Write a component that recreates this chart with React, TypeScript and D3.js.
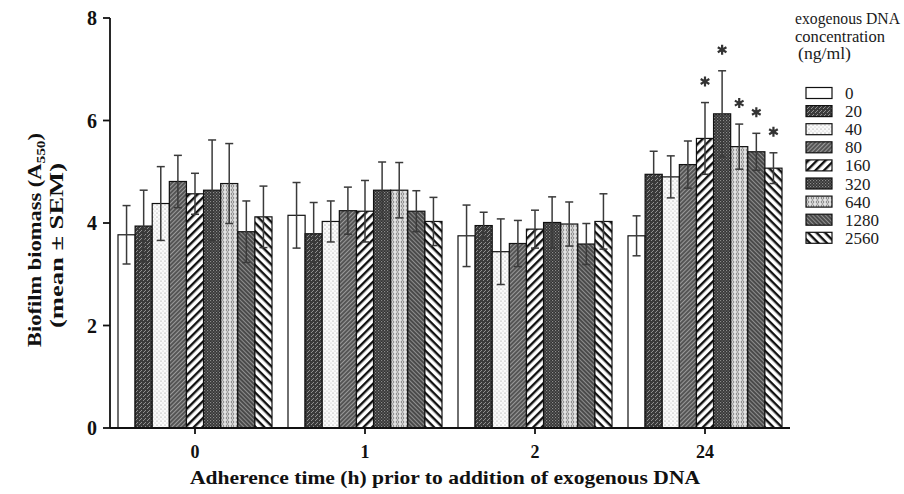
import React from 'react';
import * as d3 from 'd3';

// adherence time groups (h) and DNA concentrations (ng/ml)
const groups = ['0', '1', '2', '24'];
const concentrations = ['0', '20', '40', '80', '160', '320', '640', '1280', '2560'];

// mean biofilm biomass per group, one entry per concentration
const means = [
  [3.77, 3.94, 4.38, 4.81, 4.57, 4.64, 4.77, 3.83, 4.12],
  [4.15, 3.79, 4.03, 4.24, 4.23, 4.64, 4.64, 4.23, 4.03],
  [3.75, 3.95, 3.44, 3.6, 3.88, 4.01, 3.98, 3.59, 4.03],
  [3.75, 4.95, 4.9, 5.14, 5.65, 6.13, 5.49, 5.39, 5.07],
];
const sems = [
  [0.57, 0.7, 0.72, 0.51, 0.4, 0.98, 0.78, 0.6, 0.6],
  [0.64, 0.61, 0.4, 0.46, 0.6, 0.55, 0.54, 0.4, 0.47],
  [0.6, 0.26, 0.64, 0.45, 0.37, 0.5, 0.43, 0.4, 0.54],
  [0.39, 0.45, 0.41, 0.46, 0.7, 0.84, 0.44, 0.36, 0.3],
];
// significant differences marked with an asterisk
const significant = [
  [false, false, false, false, false, false, false, false, false],
  [false, false, false, false, false, false, false, false, false],
  [false, false, false, false, false, false, false, false, false],
  [false, false, false, false, true, true, true, true, true],
];
const yTicks = [0, 2, 4, 6, 8];
const legendTitle = ['exogenous DNA', 'concentration', ' (ng/ml)'];

const patternIds = ['p0', 'p20', 'p40', 'p80', 'p160', 'p320', 'p640', 'p1280', 'p2560'];

const W = 904;
const H = 494;
const margin = { top: 18, left: 110, right: 114, bottom: 66 };
const font = '"Liberation Serif", "Times New Roman", serif';

const Patterns = () => (
  <defs>
    <pattern id="p0" width="4" height="4" patternUnits="userSpaceOnUse">
      <rect width="4" height="4" fill="#fff" />
    </pattern>
    <pattern id="p20" width="4" height="4" patternUnits="userSpaceOnUse">
      <rect width="4" height="4" fill="#3a3a3a" />
      <path d="M0,4 L2,2 M3,1 L4,0" stroke="#9a9a9a" strokeWidth="0.9" />
    </pattern>
    <pattern id="p40" width="4" height="4" patternUnits="userSpaceOnUse">
      <rect width="4" height="4" fill="#fafafa" />
      <circle cx="1" cy="1" r="0.6" fill="#8a8a8a" />
      <circle cx="3" cy="3" r="0.5" fill="#b0b0b0" />
    </pattern>
    <pattern id="p80" width="3" height="3" patternUnits="userSpaceOnUse" patternTransform="rotate(-45)">
      <rect width="3" height="3" fill="#555" />
      <rect width="3" height="1" fill="#9a9a9a" />
    </pattern>
    <pattern id="p160" width="6" height="6" patternUnits="userSpaceOnUse" patternTransform="rotate(-45)">
      <rect width="6" height="6" fill="#fff" />
      <rect width="6" height="2.4" fill="#111" />
    </pattern>
    <pattern id="p320" width="3" height="3" patternUnits="userSpaceOnUse">
      <rect width="3" height="3" fill="#333" />
      <rect x="0" y="0" width="1.2" height="1.2" fill="#8c8c8c" />
      <rect x="1.5" y="1.5" width="1.2" height="1.2" fill="#777" />
    </pattern>
    <pattern id="p640" width="5" height="4" patternUnits="userSpaceOnUse">
      <rect width="5" height="4" fill="#e2e2e2" />
      <circle cx="2.5" cy="2" r="1.3" fill="none" stroke="#707070" strokeWidth="0.8" />
    </pattern>
    <pattern id="p1280" width="3" height="3" patternUnits="userSpaceOnUse" patternTransform="rotate(45)">
      <rect width="3" height="3" fill="#4a4a4a" />
      <rect width="3" height="1" fill="#8e8e8e" />
    </pattern>
    <pattern id="p2560" width="6" height="6" patternUnits="userSpaceOnUse" patternTransform="rotate(45)">
      <rect width="6" height="6" fill="#fff" />
      <rect width="6" height="2.4" fill="#111" />
    </pattern>
  </defs>
);

const App: React.FC = () => {
  const x0 = d3.scaleBand<string>()
    .domain(groups)
    .range([margin.left, W - margin.right]);

  const x1 = d3.scaleBand<string>()
    .domain(concentrations)
    .range([-77, 77]);

  const y = d3.scaleLinear()
    .domain([0, 8])
    .range([H - margin.bottom, margin.top]);

  const baseY = y(0);
  const capHalf = 4;
  const asterisk = d3.symbol(d3.symbolAsterisk, 70)() as string;
  const titleLengths = [105, 90, 53];

  return (
    <svg width={W} height={H} style={{ position: 'absolute', left: 0, top: 0, background: '#fff' }} fontFamily={font}>
      <Patterns />

      {/* bars */}
      {groups.map((g, gi) => {
        const cx = (x0(g) as number) + x0.bandwidth() / 2;
        return (
          <g key={g}>
            {concentrations.map((c, ci) => {
              const bx = cx + (x1(c) as number);
              const bw = x1.bandwidth();
              const v = means[gi][ci];
              return (
                <rect key={c} x={bx} y={y(v)} width={bw} height={baseY - y(v)}
                  fill={`url(#${patternIds[ci]})`} stroke="#111" strokeWidth={1.2} />
              );
            })}
            {concentrations.map((c, ci) => {
              const mx = cx + (x1(c) as number) + x1.bandwidth() / 2;
              const v = means[gi][ci];
              const s = sems[gi][ci];
              const top = y(v + s);
              const bot = y(v - s);
              return (
                <g key={c} stroke="#3a3a3a" strokeWidth={1.5}>
                  <line x1={mx} x2={mx} y1={top} y2={bot} />
                  <line x1={mx - capHalf} x2={mx + capHalf} y1={top} y2={top} />
                  <line x1={mx - capHalf} x2={mx + capHalf} y1={bot} y2={bot} />
                  {significant[gi][ci] && (
                    <path d={asterisk} transform={`translate(${mx},${top - 21})`} stroke="#333" strokeWidth={2.2} fill="none" />
                  )}
                </g>
              );
            })}
          </g>
        );
      })}

      {/* y axis */}
      <g stroke="#111" strokeWidth={1.8}>
        <line x1={margin.left} x2={margin.left} y1={y(8)} y2={baseY} />
        {yTicks.map(t => (
          <line key={t} x1={margin.left - 7} x2={margin.left} y1={y(t)} y2={y(t)} />
        ))}
      </g>
      {yTicks.map(t => (
        <text key={t} x={97} y={y(t) + 7} textAnchor="end" fontSize={20} fontWeight="bold" fill="#111">{t}</text>
      ))}

      {/* x axis */}
      <g stroke="#111" strokeWidth={1.8}>
        <line x1={margin.left} x2={W - margin.right} y1={baseY} y2={baseY} />
        {groups.map(g => {
          const cx = (x0(g) as number) + x0.bandwidth() / 2;
          return <line key={g} x1={cx} x2={cx} y1={baseY} y2={baseY + 6} />;
        })}
      </g>
      {groups.map(g => (
        <text key={g} x={(x0(g) as number) + x0.bandwidth() / 2} y={458} textAnchor="middle"
          fontSize={18} fontWeight="bold" fill="#111">{g}</text>
      ))}
      <text x={190} y={484} fontSize={19} fontWeight="bold" fill="#111"
        textLength={510} lengthAdjust="spacingAndGlyphs">
        Adherence time (h) prior to addition of exogenous DNA
      </text>

      {/* y axis title */}
      <g transform="translate(41,240) rotate(-90)" fontSize={19} fontWeight="bold" fill="#111">
        <text x={-107} y={0} textLength={214} lengthAdjust="spacingAndGlyphs">
          Biofilm biomass (A<tspan fontSize={13} dy={4}>550</tspan><tspan dy={-4}>)</tspan>
        </text>
        <text x={-88} y={22} textLength={165} lengthAdjust="spacingAndGlyphs">(mean ± SEM)</text>
      </g>

      {/* legend */}
      <g fontSize={16} fill="#1a1a1a">
        {legendTitle.map((t, i) => (
          <text key={t} x={i === 2 ? 798 : 795} y={24 + i * 17.5}
            textLength={titleLengths[i]} lengthAdjust="spacingAndGlyphs">{t.trim()}</text>
        ))}
      </g>
      {concentrations.map((c, ci) => {
        const ly = 93 + ci * 18.1;
        return (
          <g key={c}>
            <rect x={806} y={ly - 5.5} width={26} height={11} fill={`url(#${patternIds[ci]})`} stroke="#111" strokeWidth={1.2} />
            <text x={845} y={ly + 6} fontSize={17} fill="#1a1a1a">{c}</text>
          </g>
        );
      })}
    </svg>
  );
};

export default App;
